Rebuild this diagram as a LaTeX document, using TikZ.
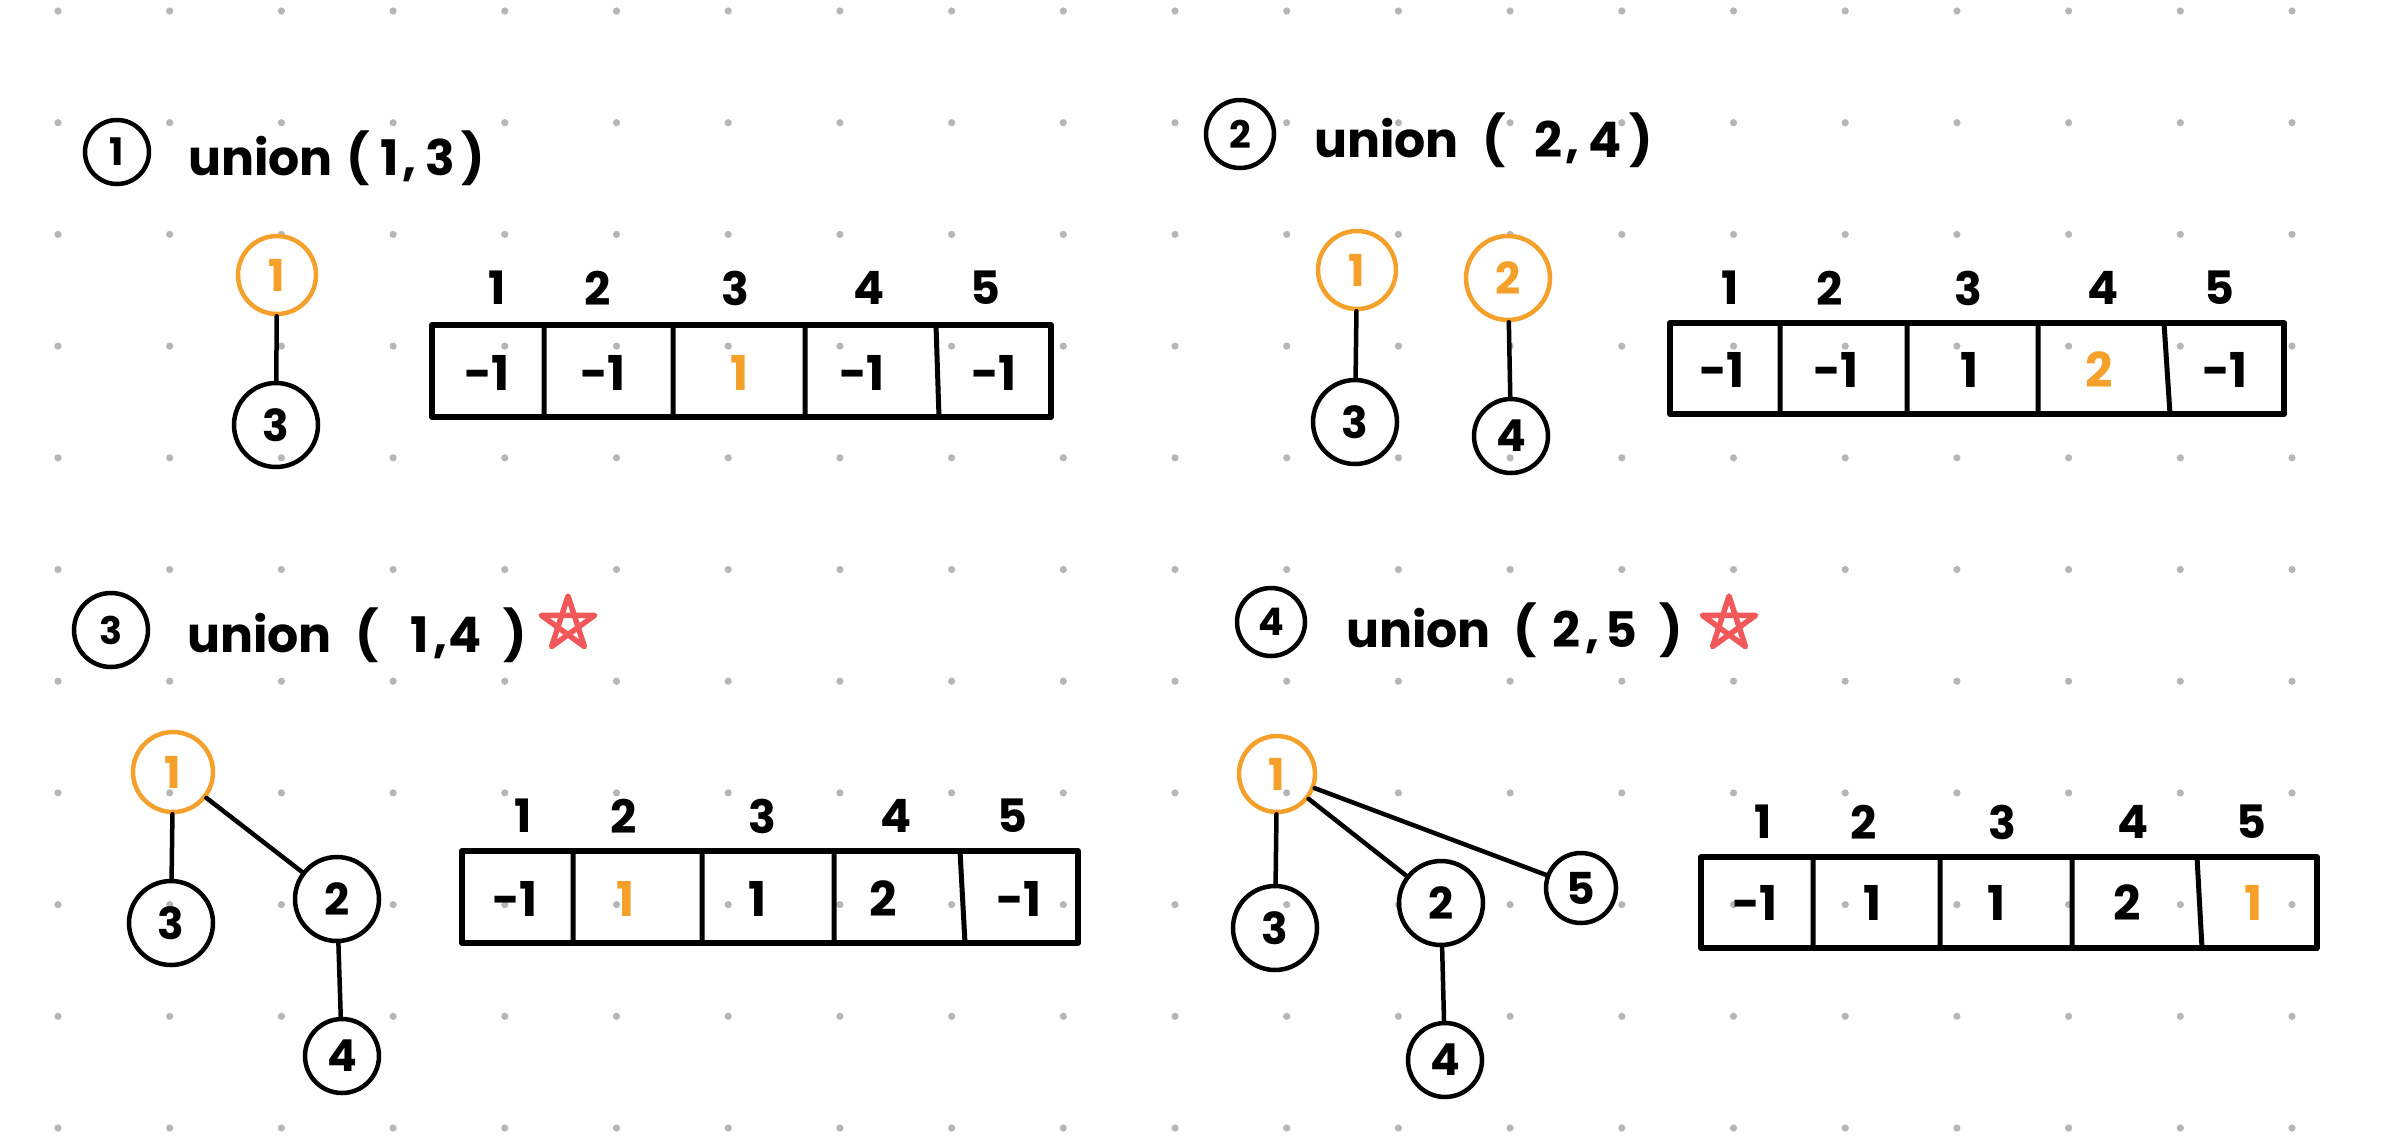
\documentclass[tikz,border=0pt]{standalone}
\usepackage{fontspec}
\setmainfont{Poppins}
\usetikzlibrary{calc}
\definecolor{dotc}{RGB}{182,182,182}
\definecolor{orng}{RGB}{244,160,42}
\definecolor{starred}{RGB}{242,88,90}
\begin{document}
\begin{tikzpicture}[x=1pt,y=-1pt,
 tn/.style={circle,draw=black,line width=4.5pt,minimum size=80pt,inner sep=0pt,font=\fontsize{44}{50}\selectfont\bfseries},
 tno/.style={tn,draw=orng,text=orng},
 edge/.style={line width=4.5pt,line cap=round},
 numc/.style={circle,draw=black,line width=4.5pt,minimum size=64pt,inner sep=0pt,font=\fontsize{38}{44}\selectfont\bfseries},
 ttl/.style={font=\fontsize{49}{60}\selectfont\bfseries,inner sep=0pt},
 idx/.style={font=\fontsize{46}{52}\selectfont\bfseries,inner sep=0pt},
 val/.style={font=\fontsize{48}{54}\selectfont\bfseries,inner sep=0pt},
 valo/.style={val,text=orng},
 arr/.style={line width=6pt,line join=round},
 div/.style={line width=5pt},
 starpath/.style={draw=starred,line width=5.5pt,line join=round,line cap=round}
]
\useasboundingbox[fill=white] (0,0) rectangle (2383,1136);
% dot grid
\foreach \i in {0,...,20}{
  \foreach \j in {0,...,10}{
    \fill[dotc] (58+111.7*\i,11+111.7*\j) circle[radius=3.6pt];
  }
}

% ---------- Panel 1 ----------
\node[numc] (t1) at (117,152) {1};
\node[ttl,anchor=base west] (t1u) at (188,175) {union};
\node[ttl,anchor=base] (t1a) at (358,175) {(};
\node[ttl,anchor=base] (t1b) at (390,175) {1};
\node[ttl,anchor=base] (t1c) at (410,175) {,};
\node[ttl,anchor=base] (t1d) at (440,175) {3};
\node[ttl,anchor=base] (t1e) at (473,175) {)};

\node[tno,minimum size=78pt] (a1) at (277,275) {1};
\node[tn,minimum size=84pt] (a3) at (276,425) {3};
\draw[edge] (a1) -- (a3);

\draw[arr] (432,325) rectangle (1051,417);
\draw[div] (544,325)--(544,417) (673,325)--(673,417) (805,325)--(805,417) (936,325)--(939,417);
\node[idx] (p1i1) at (497,288) {1};
\node[idx] (p1i2) at (598,288) {2};
\node[idx] (p1i3) at (735,288) {3};
\node[idx] (p1i4) at (869,288) {4};
\node[idx] (p1i5) at (985,288) {5};
\node[val] (p1v1) at (487,373) {-1};
\node[val] (p1v2) at (603,373) {-1};
\node[valo] (p1v3) at (740,373) {1};
\node[val] (p1v4) at (862,373) {-1};
\node[val] (p1v5) at (994,373) {-1};

% ---------- Panel 2 ----------
\node[numc,minimum size=68pt] (t2) at (1240,134) {2};
\node[ttl,anchor=base west] (t2u) at (1314,157) {union};
\node[ttl,anchor=base] (t2a) at (1494,157) {(};
\node[ttl,anchor=base] (t2b) at (1548,157) {2};
\node[ttl,anchor=base] (t2c) at (1573,157) {,};
\node[ttl,anchor=base] (t2d) at (1605,157) {4};
\node[ttl,anchor=base] (t2e) at (1641,157) {)};

\node[tno,minimum size=78pt] (b1) at (1357,270) {1};
\node[tn,minimum size=84pt] (b3) at (1355,422) {3};
\node[tno,minimum size=84pt] (b2) at (1508,278) {2};
\node[tn,minimum size=74pt] (b4) at (1511,436) {4};
\draw[edge] (b1) -- (b3);
\draw[edge] (b2) -- (b4);

\draw[arr] (1670,323) rectangle (2284,414);
\draw[div] (1780,323)--(1780,414) (1907,323)--(1907,414) (2038,323)--(2038,414) (2164,323)--(2170,414);
\node[idx] (p2i1) at (1730,288) {1};
\node[idx] (p2i2) at (1830,288) {2};
\node[idx] (p2i3) at (1968,288) {3};
\node[idx] (p2i4) at (2103,288) {4};
\node[idx] (p2i5) at (2219,288) {5};
\node[val] (p2v1) at (1722,370) {-1};
\node[val] (p2v2) at (1836,370) {-1};
\node[val] (p2v3) at (1970,370) {1};
\node[valo] (p2v4) at (2099,370) {2};
\node[val] (p2v5) at (2225,370) {-1};

% ---------- Panel 3 ----------
\node[numc,minimum size=74pt] (t3) at (111,630) {3};
\node[ttl,anchor=base west] (t3u) at (187,652) {union};
\node[ttl,anchor=base] (t3a) at (367,652) {(};
\node[ttl,anchor=base] (t3b) at (420,652) {1};
\node[ttl,anchor=base] (t3c) at (441,652) {,};
\node[ttl,anchor=base] (t3d) at (465,652) {4};
\node[ttl,anchor=base] (t3e) at (515,652) {)};
\draw[starpath] ($(568,624)+(-90:28)$)
  -- ($(568,624)+(54:28)$) -- ($(568,624)+(198:28)$) -- ($(568,624)+(342:28)$) -- ($(568,624)+(126:28)$) -- cycle;

\node[tno,minimum size=80pt] (c1) at (173,772) {1};
\node[tn,minimum size=84pt] (c3) at (171,923) {3};
\node[tn,minimum size=84pt] (c2) at (337,899) {2};
\node[tn,minimum size=74pt] (c4) at (342,1056) {4};
\draw[edge] (c1) -- (c3);
\draw[edge] (c1) -- (c2);
\draw[edge] (c2) -- (c4);

\draw[arr] (462,851) rectangle (1078,943);
\draw[div] (573,851)--(573,943) (702,851)--(702,943) (834,851)--(834,943) (960,851)--(965,943);
\node[idx] (p3i1) at (523,816) {1};
\node[idx] (p3i2) at (624,816) {2};
\node[idx] (p3i3) at (762,816) {3};
\node[idx] (p3i4) at (896,816) {4};
\node[idx] (p3i5) at (1012,816) {5};
\node[val] (p3v1) at (515,899) {-1};
\node[valo] (p3v2) at (626,899) {1};
\node[val] (p3v3) at (758,899) {1};
\node[val] (p3v4) at (883,899) {2};
\node[val] (p3v5) at (1019,899) {-1};

% ---------- Panel 4 ----------
\node[numc,minimum size=68pt] (t4) at (1271,622) {4};
\node[ttl,anchor=base west] (t4u) at (1346,647) {union};
\node[ttl,anchor=base] (t4a) at (1525,647) {(};
\node[ttl,anchor=base] (t4b) at (1566,647) {2};
\node[ttl,anchor=base] (t4c) at (1593,647) {,};
\node[ttl,anchor=base] (t4d) at (1621,647) {5};
\node[ttl,anchor=base] (t4e) at (1671,647) {)};
\draw[starpath] ($(1729,624)+(-90:28)$)
  -- ($(1729,624)+(54:28)$) -- ($(1729,624)+(198:28)$) -- ($(1729,624)+(342:28)$) -- ($(1729,624)+(126:28)$) -- cycle;

\node[tno,minimum size=76pt] (d1) at (1277,774) {1};
\node[tn,minimum size=84pt] (d3) at (1275,928) {3};
\node[tn,minimum size=84pt] (d2) at (1441,903) {2};
\node[tn,minimum size=70pt] (d5) at (1581,888) {5};
\node[tn,minimum size=74pt] (d4) at (1445,1060) {4};
\draw[edge] (d1) -- (d3);
\draw[edge] (d1) -- (d2);
\draw[edge] (d1) -- (d5);
\draw[edge] (d2) -- (d4);

\draw[arr] (1701,857) rectangle (2317,948);
\draw[div] (1813,857)--(1813,948) (1940,857)--(1940,948) (2072,857)--(2072,948) (2197,857)--(2202,948);
\node[idx] (p4i1) at (1763,822) {1};
\node[idx] (p4i2) at (1864,822) {2};
\node[idx] (p4i3) at (2002,822) {3};
\node[idx] (p4i4) at (2133,822) {4};
\node[idx] (p4i5) at (2251,822) {5};
\node[val] (p4v1) at (1755,903) {-1};
\node[val] (p4v2) at (1873,903) {1};
\node[val] (p4v3) at (1997,903) {1};
\node[val] (p4v4) at (2127,903) {2};
\node[valo] (p4v5) at (2253,903) {1};
\end{tikzpicture}
\end{document}
